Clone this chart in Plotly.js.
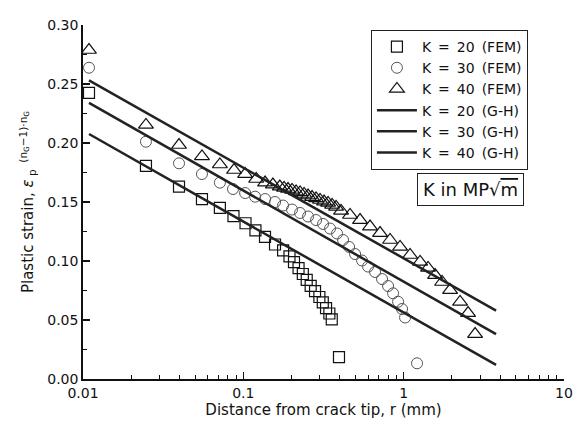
<!DOCTYPE html>
<html>
<head>
<meta charset="utf-8">
<script src="https://cdn.plot.ly/plotly-3.0.1.min.js"></script>
<style>html,body{margin:0;padding:0;background:#fff;}#chart{width:576px;height:430px;}</style>
</head>
<body>
<div id="chart"></div>
<script>
// FEM results, K = 20
const r_fem20 = [0.0109, 0.0247, 0.0397, 0.0552, 0.0714, 0.0868, 0.1032, 0.119, 0.1365, 0.1576, 0.177, 0.194, 0.207, 0.221, 0.235, 0.2485, 0.263, 0.280, 0.298, 0.313, 0.328, 0.344, 0.356, 0.395];
const e_fem20 = [0.2425, 0.1806, 0.163, 0.1525, 0.145, 0.138, 0.132, 0.126, 0.1205, 0.114, 0.109, 0.104, 0.099, 0.094, 0.089, 0.084, 0.079, 0.0745, 0.0695, 0.065, 0.060, 0.0555, 0.0505, 0.0186];
// FEM results, K = 30
const r_fem30 = [0.0109, 0.0247, 0.0397, 0.0552, 0.0714, 0.0862, 0.1026, 0.1185, 0.1367, 0.1577, 0.1769, 0.2013, 0.2258, 0.2533, 0.2842, 0.3142, 0.3475, 0.3842, 0.4188, 0.4566, 0.4977, 0.5503, 0.5998, 0.6632, 0.7333, 0.7993, 0.8589, 0.9229, 0.9772, 1.0202, 1.2119];
const e_fem30 = [0.2638, 0.2011, 0.1828, 0.1737, 0.1664, 0.1610, 0.1576, 0.1545, 0.1525, 0.1500, 0.1470, 0.1436, 0.1407, 0.1377, 0.1347, 0.1314, 0.1275, 0.1233, 0.1178, 0.1119, 0.1059, 0.1004, 0.0953, 0.0907, 0.0847, 0.0788, 0.0726, 0.0655, 0.0593, 0.0521, 0.0133];
// FEM results, K = 40
const r_fem40 = [0.0109, 0.0247, 0.0397, 0.0552, 0.0714, 0.0875, 0.1026, 0.1203, 0.1367, 0.1529, 0.1689, 0.1795, 0.190, 0.2013, 0.2133, 0.2258, 0.2392, 0.2533, 0.2683, 0.2842, 0.3010, 0.3188, 0.3377, 0.3577, 0.3788, 0.4070, 0.4630, 0.5345, 0.6171, 0.7125, 0.8225, 0.9495, 1.096, 1.266, 1.420, 1.570, 1.736, 1.948, 2.248, 2.522, 2.789];
const e_fem40 = [0.2788, 0.2153, 0.1983, 0.1886, 0.1818, 0.1771, 0.1737, 0.1695, 0.1665, 0.1648, 0.1631, 0.1619, 0.1610, 0.1602, 0.1589, 0.1581, 0.1568, 0.1555, 0.1542, 0.1530, 0.1517, 0.1504, 0.1492, 0.1475, 0.1458, 0.1424, 0.1390, 0.1347, 0.1292, 0.1237, 0.1178, 0.1119, 0.1051, 0.0992, 0.0941, 0.0881, 0.0822, 0.0754, 0.0653, 0.0559, 0.0381];
// G-H solution lines (end points)
const r_gh = [0.0109, 3.77];
const e_gh20 = [0.2076, 0.0119];
const e_gh30 = [0.234, 0.038];
const e_gh40 = [0.253, 0.058];
// labels
const legendNames = ['K\u2002=\u200220\u2002(FEM)', 'K\u2002=\u200230\u2002(FEM)', 'K\u2002=\u200240\u2002(FEM)', 'K\u2002=\u200220\u2002(G-H)', 'K\u2002=\u200230\u2002(G-H)', 'K\u2002=\u200240\u2002(G-H)'];
const xTickVals = [0.01, 0.1, 1, 10];
const xTickText = ['0.01', '0.1', '1', '10'];

const FONT = 'DejaVu Sans, Liberation Sans, Arial, sans-serif';
const mk = (sym, col, w, s) => ({symbol: sym, size: s, color: col, line: {color: col, width: w}});

const traces = [
  {x: r_fem20, y: e_fem20, mode: 'markers', name: legendNames[0], marker: mk('square-open', '#111', 1.2, 11), type: 'scatter'},
  {x: r_fem30, y: e_fem30, mode: 'markers', name: legendNames[1], marker: mk('circle-open', '#555', 1, 11), type: 'scatter'},
  {x: r_fem40, y: e_fem40, mode: 'markers', name: legendNames[2], marker: mk('triangle-up-open', '#111', 1.2, 13), type: 'scatter'},
  {x: r_gh, y: e_gh20, mode: 'lines', name: legendNames[3], line: {color: '#222', width: 2.5}, type: 'scatter'},
  {x: r_gh, y: e_gh30, mode: 'lines', name: legendNames[4], line: {color: '#222', width: 2.5}, type: 'scatter'},
  {x: r_gh, y: e_gh40, mode: 'lines', name: legendNames[5], line: {color: '#222', width: 2.5}, type: 'scatter'}
];

const layout = {
  width: 576, height: 430,
  margin: {l: 83, r: 12, t: 25, b: 51},
  paper_bgcolor: '#fff', plot_bgcolor: '#fff',
  font: {family: FONT, size: 14, color: '#111'},
  showlegend: true,
  legend: {
    x: 0.925, y: 0.986, xanchor: 'right', yanchor: 'top',
    bgcolor: '#fff', bordercolor: '#222', borderwidth: 1,
    font: {family: FONT, size: 14, color: '#111'},
    tracegroupgap: 0, itemwidth: 40
  },
  xaxis: {
    type: 'log', range: [-2, 1],
    tickmode: 'array', tickvals: xTickVals, ticktext: xTickText,
    ticks: 'inside', ticklen: 7, tickwidth: 1.5, tickcolor: '#111',
    minor: {ticks: 'inside', ticklen: 4, tickwidth: 1, tickcolor: '#111', tickmode: 'array',
      tickvals: [0.02,0.03,0.04,0.05,0.06,0.07,0.08,0.09,0.2,0.3,0.4,0.5,0.6,0.7,0.8,0.9,2,3,4,5,6,7,8,9]},
    showline: true, linecolor: '#111', linewidth: 1.8, mirror: false,
    showgrid: false, zeroline: false,
    tickfont: {family: FONT, size: 14, color: '#111'},
    title: {text: 'Distance from crack tip, r (mm)', font: {family: FONT, size: 15, color: '#111'}, standoff: 5}
  },
  yaxis: {
    range: [0, 0.30], dtick: 0.05, tick0: 0, tickformat: '.2f',
    ticks: 'inside', ticklen: 7, tickwidth: 1.5, tickcolor: '#111',
    minor: {ticks: 'inside', ticklen: 4, tickwidth: 1, tickcolor: '#111', dtick: 0.025},
    showline: true, linecolor: '#111', linewidth: 1.8, mirror: false,
    showgrid: false, zeroline: false,
    tickfont: {family: FONT, size: 14, color: '#111'},
    title: {text: 'Plastic strain, <i>ε</i><sub> p</sub><sup>  (n<sub>G</sub>−1)·n<sub>G</sub></sup>', font: {family: FONT, size: 15, color: '#111'}, standoff: 10}
  },
  annotations: [{
    xref: 'paper', yref: 'paper', x: 0.8046, y: 0.5367, xanchor: 'center', yanchor: 'middle',
    text: 'K in MP√<span style="text-decoration:overline">m</span>', showarrow: false,
    font: {family: FONT, size: 18, color: '#111'},
    bordercolor: '#222', borderwidth: 1, borderpad: 5, bgcolor: '#fff'
  }]
};

Plotly.newPlot('chart', traces, layout, {displayModeBar: false, staticPlot: true});
</script>
</body>
</html>
